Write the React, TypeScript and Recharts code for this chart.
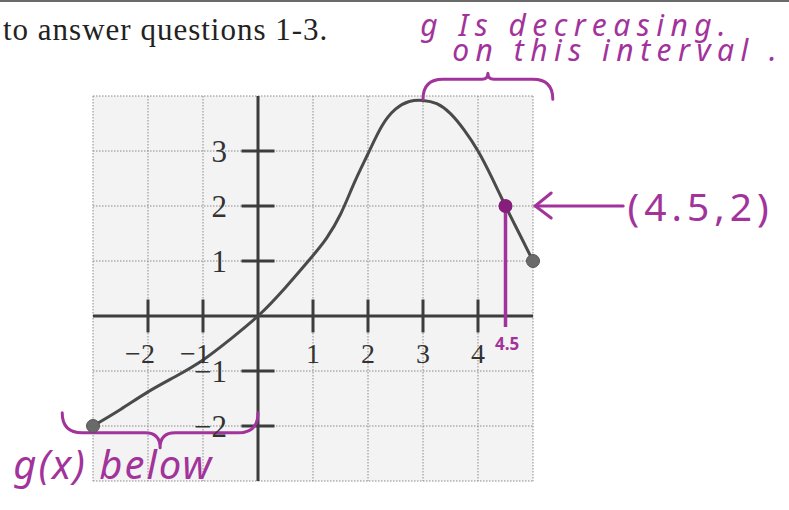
import React from 'react';
import { LineChart, Line, XAxis, YAxis, CartesianGrid, ReferenceLine, ReferenceDot } from 'recharts';

// g(x) sampled along the drawn curve
const xs = [-3, -2.5, -2, -1.5, -1, -0.5, 0, 0.5, 1, 1.25, 1.5, 1.75, 2, 2.25, 2.5, 2.75, 3, 3.25, 3.5, 3.75, 4, 4.25, 4.5, 4.75, 5];
const gx = [-2, -1.7, -1.38, -1.1, -0.8, -0.42, 0, 0.52, 1.1, 1.42, 1.85, 2.42, 2.95, 3.45, 3.76, 3.9, 3.92, 3.86, 3.68, 3.38, 3.0, 2.52, 2.0, 1.5, 1.0];

const gridX = [-3, -2, -1, 0, 1, 2, 3, 4, 5];
const gridY = [-3, -2, -1, 0, 1, 2, 3, 4];
const xTicks = [-2, -1, 1, 2, 3, 4];
const yTicks = [-2, -1, 1, 2, 3];

// closed endpoints of the graph
const endX = [-3, 5];
const endY = [-2, 1];

// point marked by hand
const markX = 4.5;
const markY = 2;

const data = xs.map((x, i) => ({ x, g: gx[i] }));

const INK = '#a2339b';
const PEN = '#3c3c3c';
const SERIF = '"Liberation Serif", "DejaVu Serif", serif';
const HAND = '"Noto Sans", "DejaVu Sans", sans-serif';

const fmt = (v: number) => (v < 0 ? `\u2212${-v}` : `${v}`);

// curly brace between the two segment ends, opening away from dir
function brace(dir: number, h: number, tip: number) {
  return (p: any) => {
    const xa = Math.min(p.x1, p.x2);
    const xb = Math.max(p.x1, p.x2);
    const y = p.y1;
    const xm = (xa + xb) / 2;
    const yb = y + dir * h;
    const yt = yb + dir * tip;
    const d = `M${xa},${y} Q${xa},${yb} ${xa + h},${yb} L${xm - tip},${yb} Q${xm},${yb} ${xm},${yt} Q${xm},${yb} ${xm + tip},${yb} L${xb - h},${yb} Q${xb},${yb} ${xb},${y}`;
    return <path d={d} fill="none" stroke={INK} strokeWidth={3} strokeLinecap="round" strokeLinejoin="round" />;
  };
}

// arrow pointing at (x1, y1)
const arrow = (p: any) => (
  <g stroke={INK} strokeWidth={3} strokeLinecap="round" fill="none">
    <line x1={p.x1} y1={p.y1} x2={p.x2} y2={p.y2} />
    <polyline points={`${p.x1 + 16},${p.y1 - 13} ${p.x1},${p.y1} ${p.x1 + 16},${p.y1 + 12}`} />
  </g>
);

function note(key: string, x: number, y: number, text: string, style: any) {
  return (
    <ReferenceDot
      key={key}
      x={x}
      y={y}
      r={0}
      ifOverflow="visible"
      shape={(p: any) => (
        <text x={p.cx} y={p.cy} fill={INK} fontFamily={HAND} {...style}>
          {text}
        </text>
      )}
    />
  );
}

export default function App() {
  return (
    <div
      style={{
        position: 'absolute',
        left: 0,
        top: 0,
        width: 789,
        height: 510,
        background: '#fff',
        overflow: 'hidden',
        borderTop: '2px solid #6a6a6a',
        boxSizing: 'border-box',
      }}
    >
      <div style={{ position: 'absolute', left: 0, top: -2 }}>
        <LineChart width={789} height={510} data={data} margin={{ top: 96, right: 256, bottom: 29, left: 93 }}>
          <XAxis type="number" dataKey="x" domain={[-3, 5]} ticks={gridX} hide />
          <YAxis type="number" domain={[-3, 4]} ticks={gridY} hide />
          <CartesianGrid
            stroke="#8a8a8a"
            strokeDasharray="1.5 1.5"
            fill="#f3f3f3"
            verticalValues={gridX}
            horizontalValues={gridY}
          />
          <ReferenceLine x={0} stroke={PEN} strokeWidth={3} />
          <ReferenceLine y={0} stroke={PEN} strokeWidth={3} />
          {xTicks.map((t) => (
            <ReferenceLine key={`xt${t}`} segment={[{ x: t, y: -0.3 }, { x: t, y: 0.3 }]} stroke={PEN} strokeWidth={3} />
          ))}
          {yTicks.map((t) => (
            <ReferenceLine key={`yt${t}`} segment={[{ x: -0.3, y: t }, { x: 0.3, y: t }]} stroke={PEN} strokeWidth={3} />
          ))}
          {xTicks.map((t) => (
            <ReferenceDot
              key={`xl${t}`}
              x={t}
              y={0}
              r={0}
              shape={(p: any) => (
                <text x={p.cx + (t < 0 ? -8 : 0)} y={p.cy + 47} textAnchor="middle" fontFamily={SERIF} fontSize={28} fill="#333">
                  {fmt(t)}
                </text>
              )}
            />
          ))}
          {yTicks.map((t) => (
            <ReferenceDot
              key={`yl${t}`}
              x={0}
              y={t}
              r={0}
              shape={(p: any) => (
                <text x={p.cx - 31} y={p.cy + 11} textAnchor="end" fontFamily={SERIF} fontSize={31} fill="#333">
                  {fmt(t)}
                </text>
              )}
            />
          ))}
          <Line
            type="natural"
            dataKey="g"
            stroke="#4a4a4a"
            strokeWidth={3}
            dot={false}
            activeDot={false}
            isAnimationActive={false}
          />
          {endX.map((x, i) => (
            <ReferenceDot key={`end${i}`} x={x} y={endY[i]} r={6.5} fill="#6a6a6a" stroke="#555" strokeWidth={1} ifOverflow="visible" />
          ))}

          {/* hand annotations */}
          <ReferenceLine segment={[{ x: markX, y: markY }, { x: markX, y: -0.2 }]} stroke={INK} strokeWidth={3.5} />
          <ReferenceDot x={markX} y={markY} r={7} fill="#861f7c" stroke="none" />
          {note('n45', 4.53, -0.62, '4.5', { fontSize: 17, fontWeight: 'bold', textAnchor: 'middle' })}
          <ReferenceLine segment={[{ x: 5.04, y: markY }, { x: 6.64, y: markY }]} ifOverflow="visible" shape={arrow} />
          {note('pt', 6.72, 1.72, '(4.5,2)', { fontSize: 39, letterSpacing: 5 })}
          <ReferenceLine segment={[{ x: 3.0, y: 3.94 }, { x: 5.36, y: 3.94 }]} ifOverflow="visible" shape={brace(-1, 20, 6)} />
          {note('dec1', 2.95, 5.1, 'g Is decreasing.', { fontSize: 30, fontStyle: 'italic', letterSpacing: 6.5 })}
          {note('dec2', 3.53, 4.64, 'on this interval .', { fontSize: 30, fontStyle: 'italic', letterSpacing: 6.5 })}
          <ReferenceLine segment={[{ x: -3.56, y: -1.76 }, { x: 0, y: -1.76 }]} ifOverflow="visible" shape={brace(1, 20, 15)} />
          {note('below', -4.45, -2.97, 'g(x) below', { fontSize: 40, fontStyle: 'italic', letterSpacing: 2 })}
        </LineChart>
      </div>
      <div
        style={{
          position: 'absolute',
          left: 3,
          top: 12,
          fontFamily: SERIF,
          fontSize: 31,
          lineHeight: 1,
          letterSpacing: 1,
          color: '#222',
          whiteSpace: 'nowrap',
        }}
      >
        to answer questions 1-3.
      </div>
    </div>
  );
}
